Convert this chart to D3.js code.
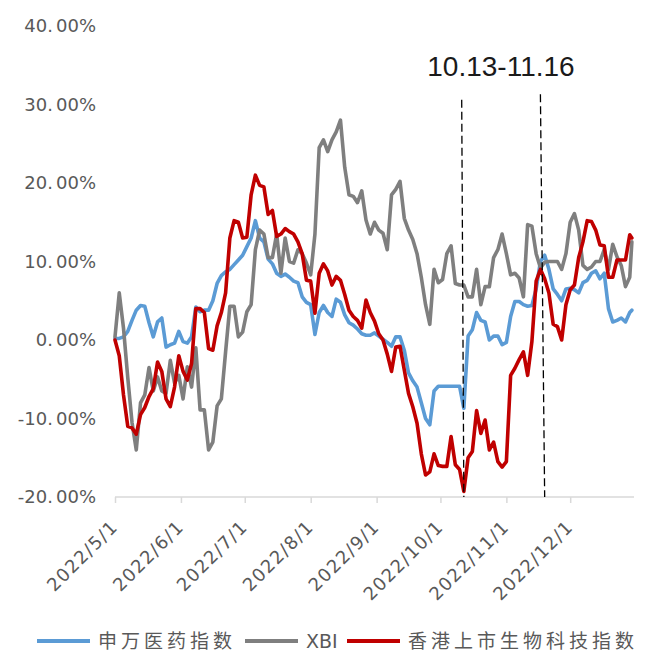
<!DOCTYPE html>
<html><head><meta charset="utf-8">
<script src="https://cdn.jsdelivr.net/npm/d3@7"></script>
<style>body{margin:0;background:#fff}svg{display:block}</style>
</head><body><svg id="c" width="646" height="653"></svg>
<script>
const dates = [
 "5/1","5/3","5/5","5/7","5/9","5/11","5/13","5/15","5/17","5/19","5/21","5/23","5/25","5/27","5/29","5/31",
 "6/2","6/4","6/6","6/8","6/10","6/12","6/14","6/16","6/18","6/20","6/22","6/24","6/26","6/28","6/30",
 "7/2","7/4","7/6","7/8","7/10","7/12","7/14","7/16","7/18","7/20","7/22","7/24","7/26","7/28","7/30",
 "8/1","8/3","8/5","8/7","8/9","8/11","8/13","8/15","8/17","8/19","8/21","8/23","8/25","8/27","8/29","8/31",
 "9/2","9/4","9/6","9/8","9/10","9/12","9/14","9/16","9/18","9/20","9/22","9/24","9/26","9/28","9/30",
 "10/2","10/4","10/6","10/8","10/10","10/12","10/14","10/16","10/18","10/20","10/22","10/24","10/26","10/28","10/30",
 "11/1","11/3","11/5","11/7","11/9","11/11","11/13","11/15","11/17","11/19","11/21","11/23","11/25","11/27","11/29",
 "12/1","12/3","12/5","12/7","12/9","12/11","12/13","12/15","12/17","12/19","12/21","12/23","12/25","12/27","12/29","12/30"
];
const swValues = [
 0.2,0.2,0.4,1.1,2.5,3.8,4.4,4.3,2.2,0.4,2.3,2.8,-0.9,-0.6,-0.4,1.1,
 -0.2,-0.4,0.4,4.2,3.6,3.8,3.8,5.0,7.2,8.2,8.7,9.0,9.6,10.2,10.8,
 11.9,13.0,15.2,13.0,12.5,10.3,9.7,8.5,8.1,8.4,8.0,7.5,7.3,5.5,4.8,
 4.5,0.7,3.5,4.4,3.5,3.0,5.2,4.8,3.2,2.2,1.9,1.4,0.8,0.6,0.6,0.9,
 0.5,0.1,-0.3,-0.8,0.4,0.4,-1.3,-4.2,-5.2,-6.0,-8.0,-10.0,-10.8,-6.5,-5.9,
 -5.9,-5.9,-5.9,-5.9,-5.9,-8.7,0.5,1.3,3.5,2.5,2.3,0.0,0.5,0.5,-0.6,
 -0.3,3.0,4.9,4.9,4.5,4.3,4.4,6.5,10.0,10.8,9.0,6.5,5.8,5.0,6.5,
 6.6,6.4,6.0,7.3,7.6,8.5,8.8,7.8,8.5,4.0,2.3,2.5,2.8,2.3,3.5,3.8
];
const xbiValues = [
 0.4,6.0,1.5,-4.8,-10.5,-14.0,-8.0,-7.0,-3.5,-6.5,-4.7,-6.5,-6.8,-2.6,-5.5,-4.5,
 -7.5,-3.4,-6.0,-1.0,-8.9,-8.9,-14.0,-13.0,-8.4,-7.5,-1.5,4.3,4.3,0.4,1.0,
 3.6,4.5,11.5,14.0,13.5,10.5,10.5,13.5,8.5,13.0,10.0,9.8,11.5,11.0,9.8,
 8.3,13.5,24.5,25.5,24.0,25.5,26.5,28.0,22.0,18.5,18.3,17.5,19.0,15.3,13.5,15.0,
 14.0,13.6,11.5,18.5,19.2,20.2,15.5,14.0,12.8,11.0,8.0,4.5,2.0,9.0,7.3,
 7.7,11.0,12.0,7.2,7.0,7.0,5.5,5.5,9.0,4.5,6.8,6.8,10.5,11.5,13.5,
 11.0,8.3,8.5,7.9,5.5,14.7,14.5,11.0,9.2,9.9,10.0,10.0,10.0,9.0,11.0,
 15.0,16.1,14.0,9.5,9.0,9.3,10.0,10.0,11.5,9.0,12.2,10.6,9.5,6.8,8.0,12.5
];
const hkValues = [
 0.0,-2.0,-7.0,-11.0,-11.2,-12.0,-9.5,-8.6,-7.2,-6.2,-2.8,-4.0,-7.5,-8.5,-6.0,-2.0,
 -4.0,-5.1,-3.0,4.0,4.0,3.5,-1.1,-1.3,1.8,3.5,6.0,13.0,15.2,15.0,13.0,
 13.1,18.5,21.0,19.7,19.5,16.0,16.5,13.2,13.5,14.2,13.8,13.5,12.5,11.0,7.6,
 7.5,3.4,8.5,9.7,8.8,7.0,8.1,7.6,5.8,3.8,3.0,2.5,1.5,5.1,3.5,2.4,
 0.8,0.0,-1.8,-4.0,-0.9,-0.8,-3.8,-6.8,-8.5,-10.6,-14.5,-17.2,-16.8,-14.5,-16.0,
 -16.1,-16.1,-12.3,-15.9,-16.5,-19.3,-15.0,-14.2,-9.0,-11.9,-10.2,-14.0,-13.0,-15.5,-16.2,
 -15.5,-4.5,-3.6,-2.5,-1.5,-4.5,-0.2,7.5,9.0,7.8,6.0,2.0,1.7,0.0,4.5,
 6.4,7.0,10.5,12.5,15.2,15.1,14.0,12.1,12.0,8.0,8.0,10.2,10.2,10.2,13.4,13.0
];
const yTicks = [-20,-10,0,10,20,30,40];
const xTickLabels = ["2022/5/1","2022/6/1","2022/7/1","2022/8/1","2022/9/1","2022/10/1","2022/11/1","2022/12/1"];
const seriesNames = ["申万医药指数","XBI","香港上市生物科技指数"];
const seriesColors = ["#5B9BD5","#7F7F7F","#C00000"];
const periodLabel = "10.13-11.16";
const periodTopDates = ["2022/10/11","2022/11/17"];
const periodBottomDates = ["2022/10/12","2022/11/19"];
const periodTopValues = [30.6,31.3];

const parse = d3.timeParse("%Y/%m/%d");
const x = d3.scaleTime().domain([parse("2022/5/1"), parse("2022/12/31")]).range([115, 634]);
const y = d3.scaleLinear().domain([-20, 40]).range([497, 26]);
const svg = d3.select("#c");
const numFont = "'DejaVu Sans', sans-serif";
const cjkFont = "'Noto Sans CJK SC', sans-serif";
const txtColor = "#595959";

// Y labels
const yl = svg.append("g");
yTicks.forEach(v => {
  const s = v.toFixed(2) + "%";
  const i = s.indexOf(".") + 1;
  const t = yl.append("text").attr("x", 96).attr("y", y(v)).attr("dy", "0.36em")
    .attr("text-anchor", "end").attr("font-family", numFont).attr("font-size", 18).attr("fill", txtColor);
  t.append("tspan").text(s.slice(0, i));
  t.append("tspan").attr("dx", 3).text(s.slice(i));
});

// X axis
const xg = svg.append("g").attr("transform", "translate(0,497)");
const axis = d3.axisBottom(x).tickValues(xTickLabels.map(parse)).tickSize(6).tickFormat("");
xg.call(axis);
xg.select(".domain").attr("stroke", "#d9d9d9").attr("stroke-width", 1.5).attr("d", `M${x.range()[0]},0H${x.range()[1]}`);
xg.selectAll(".tick line").attr("stroke", "#d9d9d9").attr("stroke-width", 1.5);
svg.append("g").selectAll("text").data(xTickLabels).join("text")
  .attr("transform", d => `translate(${x(parse(d)) + 4},528) rotate(-45)`)
  .attr("text-anchor", "end").attr("font-family", numFont).attr("font-size", 18)
  .attr("letter-spacing", 1.3).attr("fill", txtColor).text(d => d);

// Series
const parsedDates = dates.map(d => parse("2022/" + d));
const line = d3.line().x((d, i) => x(parsedDates[i])).y(d => y(d));
[swValues, xbiValues, hkValues].forEach((vals, k) => {
  svg.append("path").datum(vals).attr("d", line).attr("fill", "none")
    .attr("stroke", seriesColors[k]).attr("stroke-width", 3.6)
    .attr("stroke-linejoin", "round").attr("stroke-linecap", "round");
});

// Period markers
periodTopDates.forEach((d, i) => {
  svg.append("line")
    .attr("x1", x(parse(d))).attr("y1", y(periodTopValues[i]))
    .attr("x2", x(parse(periodBottomDates[i]))).attr("y2", y(-20))
    .attr("stroke", "#000").attr("stroke-width", 1.3).attr("stroke-dasharray", "8,4");
});
svg.append("text").attr("x", 501).attr("y", 76).attr("text-anchor", "middle")
  .attr("font-family", "'Liberation Sans', Arial, sans-serif").attr("font-size", 28)
  .attr("fill", "#1a1a1a").text(periodLabel);

// Legend
const legendX = [37, 245, 347];
seriesNames.forEach((n, k) => {
  const g = svg.append("g").attr("transform", `translate(${legendX[k]},641)`);
  g.append("line").attr("x1", 0).attr("x2", 53).attr("stroke", seriesColors[k]).attr("stroke-width", 4);
  g.append("text").attr("x", 61).attr("dy", "0.36em").attr("font-family", k === 1 ? numFont : cjkFont)
    .attr("font-size", 19).attr("letter-spacing", k === 1 ? 0 : 4).attr("fill", txtColor).text(n);
});
</script></body></html>
